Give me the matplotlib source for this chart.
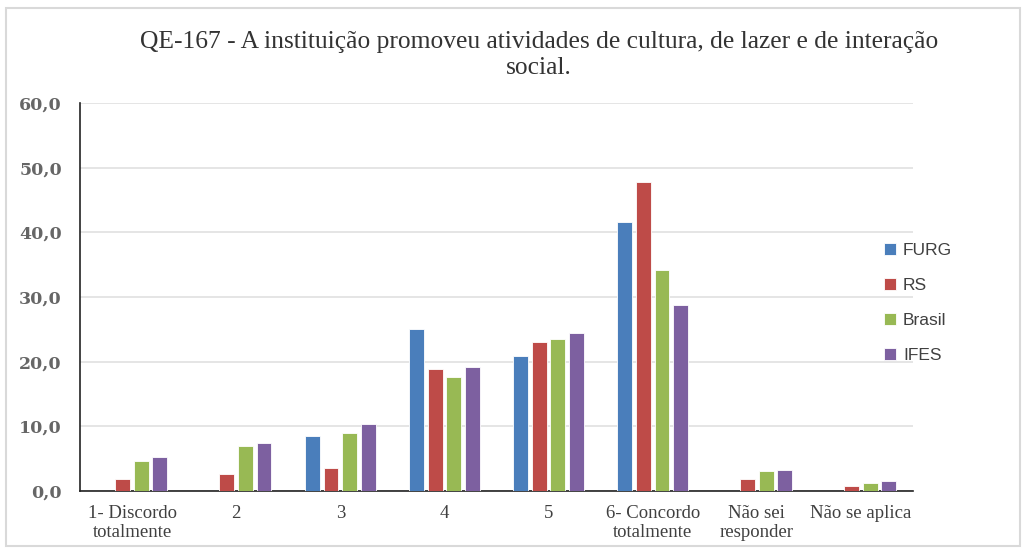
import numpy as np
import matplotlib.pyplot as plt
from matplotlib.patches import Rectangle

categorias = ['1- Discordo\ntotalmente', '2', '3', '4', '5',
              '6- Concordo\ntotalmente', 'Não sei\nresponder', 'Não se aplica']
furg = [0.0, 0.0, 8.5, 25.0, 20.8, 41.6, 0.0, 0.0]
rs = [1.8, 2.6, 3.5, 18.8, 23.0, 47.8, 1.8, 0.8]
brasil = [4.6, 6.9, 8.9, 17.6, 23.5, 34.2, 3.1, 1.3]
ifes = [5.2, 7.4, 10.3, 19.1, 24.5, 28.7, 3.3, 1.6]
series = {'FURG': furg, 'RS': rs, 'Brasil': brasil, 'IFES': ifes}
cores = ['#4a7ebb', '#be4b48', '#98b954', '#7d60a0']

W, H = 1029, 549
fig = plt.figure(figsize=(W / 100, H / 100), dpi=100)
ax = fig.add_axes([80 / W, 1 - 491 / H, (913 - 80) / W, (491 - 103) / H])

# borda clara em volta do gráfico
fig.patches.append(Rectangle((6 / W, 3 / H), 1014 / W, 538 / H, transform=fig.transFigure,
                             fill=False, edgecolor='#d9d9d9', linewidth=1.5))

x = np.arange(len(categorias))
largura = 0.143
passo = 0.178
for i, (nome, vals) in enumerate(series.items()):
    ax.bar(x + (i - 1.5) * passo, vals, largura, color=cores[i], label=nome,
           edgecolor='white', linewidth=0.6, zorder=3)

ax.set_xlim(-0.5, len(categorias) - 0.5)
ax.set_ylim(0, 60)
ax.set_yticks(np.arange(0, 61, 10))
ax.set_yticklabels([f'{v:.1f}'.replace('.', ',') for v in np.arange(0, 61, 10)],
                   fontsize=12.5, color='#666666', family='DejaVu Serif', fontweight='bold')
ax.set_xticks(x)
ax.set_xticklabels(categorias, fontsize=13.5, color='#404040', family='Liberation Serif',
                   linespacing=1.15)
ax.tick_params(axis='both', length=0)
ax.tick_params(axis='y', pad=13)
ax.tick_params(axis='x', pad=10)
ax.grid(axis='y', color='#e0e0e0', linewidth=1.2, zorder=0)
for s in ['top', 'right']:
    ax.spines[s].set_visible(False)
ax.spines['left'].set_color('#222222')
ax.spines['bottom'].set_color('#222222')
ax.spines['left'].set_linewidth(1.2)
ax.spines['bottom'].set_linewidth(1.2)

fig.text(539 / W, 1 - 42 / H, 'QE-167 - A instituição promoveu atividades de cultura, de lazer e de interação',
         ha='center', va='center', fontsize=18.4, family='Liberation Serif', color='#333333')
fig.text(539 / W, 1 - 68 / H, 'social.', ha='center', va='center', fontsize=18.4,
         family='Liberation Serif', color='#333333')

leg = fig.legend(loc='upper left', bbox_to_anchor=(877 / W, 1 - 236 / H), frameon=False,
                 prop={'family': 'Liberation Sans', 'size': 12.5}, handlelength=0.7,
                 handleheight=0.7, handletextpad=0.4, labelspacing=1.15, borderaxespad=0)
for t in leg.get_texts():
    t.set_color('#404040')

fig.savefig('out.png', dpi=100)
